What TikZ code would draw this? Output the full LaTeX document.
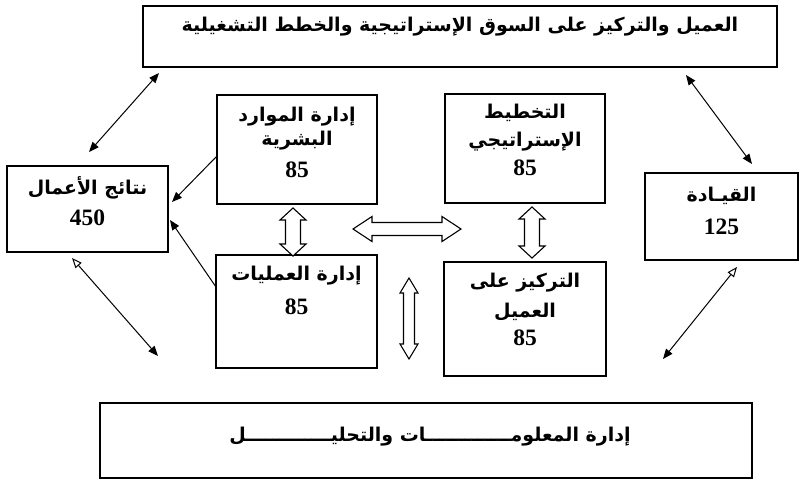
\documentclass[tikz,border=0pt]{standalone}
\usepackage{fontspec}
\TeXXeTstate=1
\newfontfamily\arabicfont[Script=Arabic]{DejaVu Sans}
\newfontfamily\numfont{Liberation Serif}
\usetikzlibrary{arrows.meta}
\newcommand\vdarr[6]{% x, ytop, ybottom, shaft half, head half, head length
  \draw[blockarr] (#1,#2) -- (#1+#5,#2+#6) -- (#1+#4,#2+#6) -- (#1+#4,#3-#6) -- (#1+#5,#3-#6)
    -- (#1,#3) -- (#1-#5,#3-#6) -- (#1-#4,#3-#6) -- (#1-#4,#2+#6) -- (#1-#5,#2+#6) -- cycle;}
\newcommand\hdarr[6]{% y, xleft, xright, shaft half, head half, head length
  \draw[blockarr] (#2,#1) -- (#2+#6,#1-#5) -- (#2+#6,#1-#4) -- (#3-#6,#1-#4) -- (#3-#6,#1-#5)
    -- (#3,#1) -- (#3-#6,#1+#5) -- (#3-#6,#1+#4) -- (#2+#6,#1+#4) -- (#2+#6,#1+#5) -- cycle;}
\begin{document}
\begin{tikzpicture}[x=1pt,y=-1pt,
  box/.style={draw,line width=1.1pt,inner sep=0pt,outer sep=0pt,fill=white},
  ar/.style={font=\arabicfont\bfseries\fontsize{19}{23}\selectfont,inner sep=0pt},
  num/.style={font=\numfont\bfseries\fontsize{23.5}{27}\selectfont,inner sep=0pt},
  conn/.style={line width=1pt,{Triangle[length=10pt,width=8pt]}-{Triangle[length=10pt,width=8pt]}},
  conno/.style={line width=1pt,{Triangle[open,length=10pt,width=8pt]}-{Triangle[length=10pt,width=8pt]}},
  single/.style={line width=1pt,-{Triangle[length=10pt,width=8pt]}},
  blockarr/.style={line width=1.1pt,fill=white,line join=miter}]
\useasboundingbox (0,0) rectangle (801,480);
% boxes
\node[box,minimum width=634pt,minimum height=61pt] (top) at (460,36.5) {};
\node[box,minimum width=161pt,minimum height=86pt] (res) at (87.5,209) {};
\node[box,minimum width=160pt,minimum height=109pt] (hr) at (297,149.5) {};
\node[box,minimum width=161pt,minimum height=113pt] (ops) at (296.5,311.5) {};
\node[box,minimum width=160pt,minimum height=109pt] (sp) at (525,148.5) {};
\node[box,minimum width=162pt,minimum height=114pt] (cf) at (525,319) {};
\node[box,minimum width=153pt,minimum height=87pt] (lead) at (721.5,216.5) {};
\node[box,minimum width=652pt,minimum height=75pt] (bot) at (426,440.5) {};
% texts
\node[ar] (toptxt) at (460,27) {\beginR العميل والتركيز على السوق الإستراتيجية والخطط التشغيلية\endR};
\node[ar] (restxt) at (87.5,188) {\beginR نتائج الأعمال\endR};
\node[num] (resnum) at (87.5,218) {450};
\node[ar] (hrtxt1) at (297,117) {\beginR إدارة الموارد\endR};
\node[ar] (hrtxt2) at (297,141) {\beginR البشرية\endR};
\node[num] (hrnum) at (297,170) {85};
\node[ar] (opstxt) at (296.5,276) {\beginR إدارة العمليات\endR};
\node[num] (opsnum) at (296.5,307) {85};
\node[ar] (sptxt1) at (525,113) {\beginR التخطيط\endR};
\node[ar] (sptxt2) at (525,142) {\beginR الإستراتيجي\endR};
\node[num] (spnum) at (525,168) {85};
\node[ar] (cftxt1) at (525,283) {\beginR التركيز على\endR};
\node[ar] (cftxt2) at (525,312) {\beginR العميل\endR};
\node[num] (cfnum) at (525,338) {85};
\node[ar] (leadtxt) at (721.5,196) {\beginR القيـادة\endR};
\node[num] (leadnum) at (721.5,227) {125};
\node[ar] (bottxt) at (430,437) {\beginR إدارة المعلومـــــــــــــات والتحليـــــــــــــل\endR};
% connector end points
\coordinate (tl1) at (159,73);  \coordinate (tl2) at (89,152);
\coordinate (tr1) at (686,75);  \coordinate (tr2) at (752,164);
\coordinate (bl1) at (72,258);  \coordinate (bl2) at (158,356);
\coordinate (br1) at (737,267); \coordinate (br2) at (663,359);
\draw[conn] (tl1) -- (tl2);
\draw[conn] (tr1) -- (tr2);
\draw[conno] (bl1) -- (bl2);
\draw[conno] (br1) -- (br2);
\draw[single] ([yshift=-6.5pt]hr.west) -- ([yshift=7pt,xshift=4pt]res.east);
\draw[single] ([yshift=24.5pt]ops.west) -- ([yshift=-11pt,xshift=2pt]res.east);
% block double arrows
\vdarr{293}{208}{256}{7.5}{13}{12}
\vdarr{532}{207}{258}{7.5}{13}{12}
\vdarr{409}{278}{359}{5.5}{9}{15}
\hdarr{229}{353}{461}{6.5}{12.5}{19}
\end{tikzpicture}
\end{document}
